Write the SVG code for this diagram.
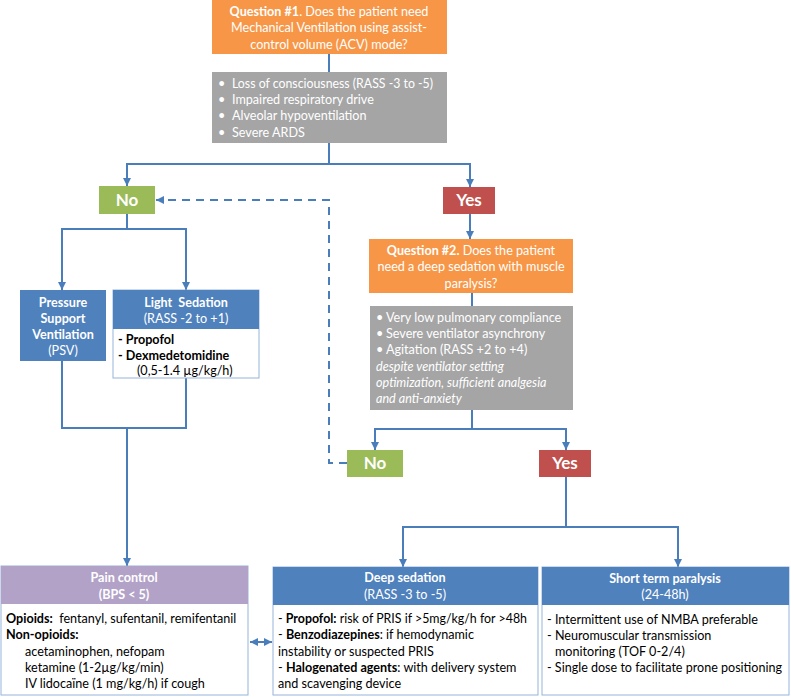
<svg xmlns="http://www.w3.org/2000/svg" width="791" height="697" viewBox="0 0 791 697">
<defs>
<marker id="ah" viewBox="0 0 10 10" refX="10" refY="5" markerWidth="8" markerHeight="8" markerUnits="userSpaceOnUse" orient="auto-start-reverse">
<path d="M0,0 L10,5 L0,10 z" fill="#4A7EBB"/>
</marker>
<style>
text{font-family:Lato,"Liberation Sans",sans-serif;font-size:12.6px}
.w{fill:#fff}
.k{fill:#000}
.b{font-weight:bold}
.c{text-anchor:middle}
.big{font-size:17px;font-weight:bold;fill:#fff;text-anchor:middle}
.it{font-style:italic}
.con{fill:none;stroke:#4A7EBB;stroke-width:2}
.dash{stroke-dasharray:8,6}
.org{fill:#F79646}
.gry{fill:#A5A5A5}
.blu{fill:#4F81BD}
.grn{fill:#9BBB59}
.red{fill:#C0504D}
.pur{fill:#B3A2C7}
.body{fill:#fff;stroke:#95B3D7;stroke-width:1}
</style>
</defs>

<g id="connectors">
<path class="con" d="M329,54 V72"/>
<path class="con" d="M329,143 V164"/>
<path class="con" d="M127,186 V164 H470 V187" marker-start="url(#ah)" marker-end="url(#ah)"/>
<path class="con" d="M127,214 V229"/>
<path class="con" d="M62,290 V229 H186 V290" marker-start="url(#ah)" marker-end="url(#ah)"/>
<path class="con" d="M62,361 V428 H186 V378"/>
<path class="con" d="M127,428 V566" marker-end="url(#ah)"/>
<path class="con" d="M470,214 V239" marker-end="url(#ah)"/>
<path class="con" d="M472,293 V306"/>
<path class="con" d="M472,410 V429"/>
<path class="con" d="M375,450 V429 H566 V450" marker-start="url(#ah)" marker-end="url(#ah)"/>
<path class="con dash" d="M347,463 H329 V200 H156" marker-end="url(#ah)"/>
<path class="con" d="M566,477 V527"/>
<path class="con" d="M403,567 V527 H678 V567" marker-start="url(#ah)" marker-end="url(#ah)"/>
<path class="con" d="M250,642 H272" marker-start="url(#ah)" marker-end="url(#ah)"/>
</g>

<g id="q1">
<rect class="org" x="212" y="0" width="235" height="54"/>
<text class="w c" x="329" y="16"><tspan class="b">Question #1</tspan>. Does the patient need</text>
<text class="w c" x="329" y="32">Mechanical Ventilation using assist-</text>
<text class="w c" x="329" y="49">control volume (ACV) mode?</text>
</g>

<g id="criteria1">
<rect class="gry" x="212" y="72" width="235" height="71"/>
<text class="w" x="218" y="88">•</text><text class="w" x="232" y="88" textLength="201" lengthAdjust="spacingAndGlyphs">Loss of consciousness (RASS -3 to -5)</text>
<text class="w" x="218" y="104">•</text><text class="w" x="232" y="104">Impaired respiratory drive</text>
<text class="w" x="218" y="120">•</text><text class="w" x="232" y="120">Alveolar hypoventilation</text>
<text class="w" x="218" y="137">•</text><text class="w" x="232" y="137">Severe ARDS</text>
</g>

<g id="no1">
<rect class="grn" x="99" y="186" width="56" height="28"/>
<text class="big" x="127" y="206">No</text>
</g>

<g id="yes1">
<rect class="red" x="443" y="187" width="52" height="27"/>
<text class="big" x="469" y="206">Yes</text>
</g>

<g id="psv">
<rect class="blu" x="20" y="290" width="86" height="71"/>
<text class="w c b" x="63" y="307">Pressure</text>
<text class="w c b" x="63" y="323">Support</text>
<text class="w c b" x="63" y="339">Ventilation</text>
<text class="w c" x="63" y="355">(PSV)</text>
</g>

<g id="light-sedation">
<rect class="body" x="113" y="290" width="146" height="88"/>
<rect class="blu" x="113" y="290" width="146" height="39"/>
<text class="w c b" x="186" y="307" xml:space="preserve">Light  Sedation</text>
<text class="w c" x="186" y="323">(RASS -2 to +1)</text>
<text class="k b" x="118" y="344">- Propofol</text>
<text class="k b" x="118" y="360">- Dexmedetomidine</text>
<text class="k" x="137" y="375">(0,5-1.4 µg/kg/h)</text>
</g>

<g id="q2">
<rect class="org" x="369" y="239" width="204" height="54"/>
<text class="w c" x="471" y="255"><tspan class="b">Question #2.</tspan> Does the patient</text>
<text class="w c" x="471" y="271">need a deep sedation with muscle</text>
<text class="w c" x="471" y="288">paralysis?</text>
</g>

<g id="criteria2">
<rect class="gry" x="370" y="306" width="203" height="104"/>
<text class="w" x="376" y="322">•</text><text class="w" x="386" y="322">Very low pulmonary compliance</text>
<text class="w" x="376" y="338">•</text><text class="w" x="386" y="338">Severe ventilator asynchrony</text>
<text class="w" x="376" y="354">•</text><text class="w" x="386" y="354">Agitation (RASS +2 to +4)</text>
<text class="w it" x="376" y="371">despite ventilator setting</text>
<text class="w it" x="376" y="387">optimization, sufficient analgesia</text>
<text class="w it" x="376" y="403">and anti-anxiety</text>
</g>

<g id="no2">
<rect class="grn" x="347" y="450" width="56" height="27"/>
<text class="big" x="375" y="469">No</text>
</g>

<g id="yes2">
<rect class="red" x="539" y="450" width="52" height="27"/>
<text class="big" x="565" y="469">Yes</text>
</g>

<g id="pain-control">
<rect class="body" x="1" y="566" width="247" height="129"/>
<rect class="pur" x="1" y="566" width="247" height="38"/>
<text class="w c b" x="124" y="582">Pain control</text>
<text class="w c b" x="124" y="599">(BPS &lt; 5)</text>
<text class="k" x="6" y="623" xml:space="preserve"><tspan class="b">Opioids:</tspan>  fentanyl, sufentanil, remifentanil</text>
<text class="k b" x="6" y="639">Non-opioids:</text>
<text class="k" x="25" y="656">acetaminophen, nefopam</text>
<text class="k" x="25" y="672">ketamine (1-2µg/kg/min)</text>
<text class="k" x="25" y="688">IV lidocaïne (1 mg/kg/h) if cough</text>
</g>

<g id="deep-sedation">
<rect class="body" x="273" y="567" width="265" height="128"/>
<rect class="blu" x="273" y="567" width="265" height="38"/>
<text class="w c b" x="405" y="582">Deep sedation</text>
<text class="w c" x="405" y="599">(RASS -3 to -5)</text>
<text class="k" x="278" y="623" textLength="249" lengthAdjust="spacingAndGlyphs">- <tspan class="b">Propofol:</tspan> risk of PRIS if &gt;5mg/kg/h for &gt;48h</text>
<text class="k" x="278" y="639">- <tspan class="b">Benzodiazepines</tspan>: if hemodynamic</text>
<text class="k" x="278" y="656">instability or suspected PRIS</text>
<text class="k" x="278" y="672">- <tspan class="b">Halogenated agents</tspan>: with delivery system</text>
<text class="k" x="278" y="688">and scavenging device</text>
</g>

<g id="paralysis">
<rect class="body" x="542" y="567" width="247" height="128"/>
<rect class="blu" x="542" y="567" width="247" height="38"/>
<text class="w c b" x="665" y="583">Short term paralysis</text>
<text class="w c" x="665" y="599">(24-48h)</text>
<text class="k" x="547" y="624">- Intermittent use of NMBA preferable</text>
<text class="k" x="547" y="640">- Neuromuscular transmission</text>
<text class="k" x="555" y="656">monitoring (TOF 0-2/4)</text>
<text class="k" x="547" y="672" textLength="235" lengthAdjust="spacingAndGlyphs">- Single dose to facilitate prone positioning</text>
</g>
</svg>
